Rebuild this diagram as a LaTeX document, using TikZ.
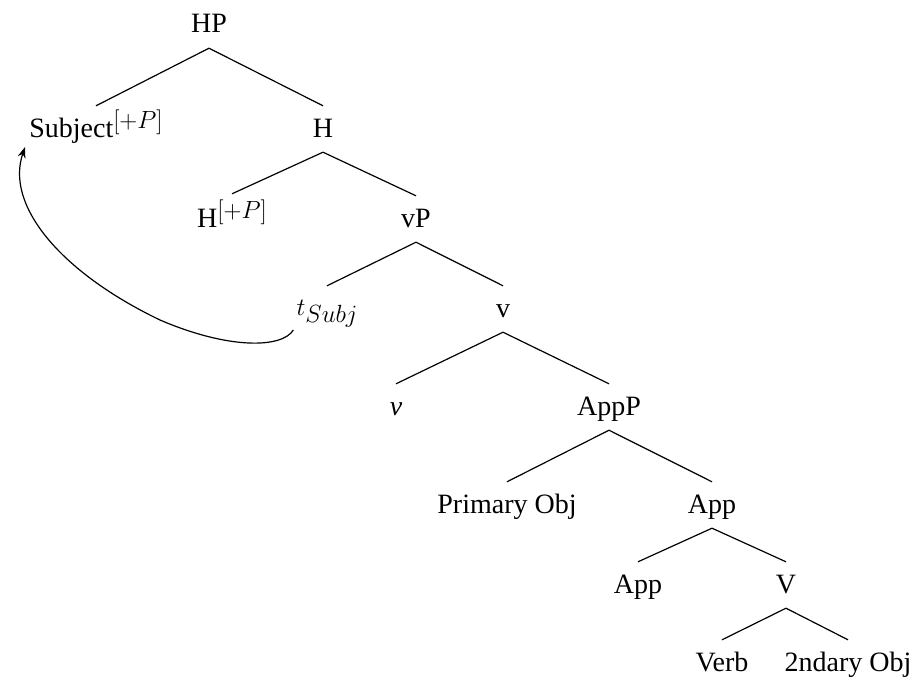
\documentclass[tikz,border=0pt]{standalone}
\usepackage{fontspec}
\setmainfont{Liberation Serif}
\usetikzlibrary{arrows.meta}
\newcommand{\featplus}[1]{\raisebox{#1}{\fontsize{25pt}{25pt}\selectfont$[+P]$}}
\newcommand{\subjsub}{\raisebox{-7pt}{\fontsize{24pt}{24pt}\selectfont$Subj$}}
\begin{document}
\begin{tikzpicture}[x=1pt,y=-1pt,
  lab/.style={anchor=base,inner xsep=0pt,inner ysep=12pt,text height=19pt,text depth=3pt,
    font=\fontsize{28pt}{34pt}\selectfont},
  branch/.style={line width=1.2pt},
  move/.style={line width=1.2pt,-{Stealth[length=11pt,width=8pt]}}]
\useasboundingbox (0,0) rectangle (916,677);
\node[lab] (hp) at (209,33) {HP};
\node[lab] (subj) at (96,137) {Subject\featplus{9pt}};
\node[lab] (h) at (323,137) {H};
\node[lab] (hplus) at (232,227) {H\featplus{9pt}};
\node[lab] (vp) at (416,227) {vP};
\node[lab] (tsubj) at (327,315) {$t$\subjsub};
\node[lab] (vbar) at (503,317) {v};
\node[lab] (vlit) at (396,415) {\textit{v}};
\node[lab] (appp) at (609,415) {AppP};
\node[lab] (pobj) at (507,513) {Primary Obj};
\node[lab] (appbar) at (712,513) {App};
\node[lab] (app) at (638,593) {App};
\node[lab] (vv) at (786,593) {V};
\node[lab] (verb) at (722,671) {Verb};
\node[lab] (sobj) at (848,671) {2ndary Obj};
\foreach \p/\c in {hp/subj,hp/h,h/vp,vp/vbar,vbar/vlit,vbar/appp,
  appp/pobj,appp/appbar,appbar/app,appbar/vv,vv/verb,vv/sobj}
  \draw[branch] (\p.south) -- (\c.north);
\draw[branch] (h.south) -- ([yshift=2pt]hplus.north);
\draw[branch] (vp.south) -- ([yshift=-2pt]tsubj.north);
\coordinate (mstart) at ([xshift=-3pt,yshift=-15pt]tsubj.base west);
\coordinate (mend) at ([xshift=-4pt,yshift=-10pt]subj.base west);
\draw[move] (mstart) .. controls ++(-11,18) and (230,350) .. (160,320)
  .. controls (60,272) and (5,205) .. (mend);
\end{tikzpicture}
\end{document}
